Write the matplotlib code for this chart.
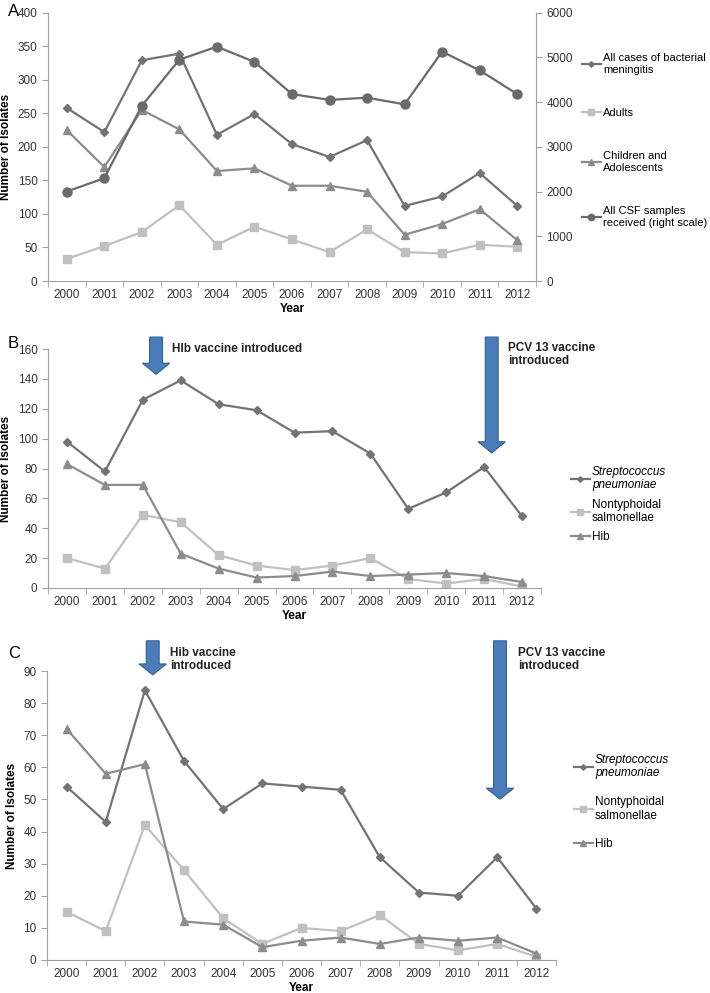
import matplotlib
matplotlib.use('Agg')
import matplotlib.pyplot as plt
from matplotlib.patches import FancyArrow

plt.rcParams['font.family'] = ['Liberation Sans', 'DejaVu Sans']
plt.rcParams['font.size'] = 8

years = ['2000', '2001', '2002', '2003', '2004', '2005', '2006',
         '2007', '2008', '2009', '2010', '2011', '2012']

# Panel A
all_cases = [258, 222, 329, 339, 218, 249, 204, 185, 210, 112, 126, 161, 112]
adults = [33, 52, 73, 113, 54, 81, 62, 43, 77, 43, 41, 54, 51]
children = [225, 170, 255, 226, 164, 168, 142, 142, 133, 69, 85, 107, 61]
csf_samples = [2000, 2300, 3920, 4950, 5240, 4900, 4180, 4050, 4100, 3950, 5130, 4710, 4180]

# Panel B
b_strep = [98, 78, 126, 139, 123, 119, 104, 105, 90, 53, 64, 81, 48]
b_nts = [20, 13, 49, 44, 22, 15, 12, 15, 20, 6, 3, 6, 1]
b_hib = [83, 69, 69, 23, 13, 7, 8, 11, 8, 9, 10, 8, 4]

# Panel C
c_strep = [54, 43, 84, 62, 47, 55, 54, 53, 32, 21, 20, 32, 16]
c_nts = [15, 9, 42, 28, 13, 5, 10, 9, 14, 5, 3, 5, 1]
c_hib = [72, 58, 61, 12, 11, 4, 6, 7, 5, 7, 6, 7, 2]

c_dia = '#737373'
c_sq = '#c0c0c0'
c_tri = '#8c8c8c'
c_circ = '#6a6a6a'
spine_col = '#a0a0a0'
arrow_fc = '#4a7cb9'
arrow_ec = '#35618f'

W, H = 710, 993
fig = plt.figure(figsize=(W / 100, H / 100), dpi=100)


def px_axes(left, right, top, bottom):
    return fig.add_axes([left / W, 1 - bottom / H, (right - left) / W, (bottom - top) / H])


def style_axes(ax, ymax, ystep):
    ax.set_xlim(-0.5, len(years) - 0.5)
    ax.set_ylim(0, ymax)
    ax.set_yticks(range(0, ymax + 1, ystep))
    ax.set_xticks(list(range(len(years))))
    ax.set_xticklabels(years)
    ax.set_xticks([i - 0.5 for i in range(len(years) + 1)], minor=True)
    ax.tick_params(axis='x', which='major', length=0, pad=6, labelsize=8.5, colors='#333333')
    ax.tick_params(axis='x', which='minor', length=4, color=spine_col, direction='out')
    ax.tick_params(axis='y', length=4, color=spine_col, labelsize=8.5, labelcolor='#333333')
    for s in ['top', 'right']:
        ax.spines[s].set_visible(False)
    for s in ['left', 'bottom']:
        ax.spines[s].set_color(spine_col)
    ax.set_ylabel('Number of Isolates', fontweight='bold', fontsize=8.5)
    ax.set_xlabel('Year', fontweight='bold', fontsize=8.5, labelpad=1)


x = list(range(len(years)))

# ---------------- Panel A
axA = px_axes(48, 536, 12.7, 281)
style_axes(axA, 400, 50)
axA2 = axA.twinx()
axA2.set_ylim(0, 6000)
axA2.set_yticks(range(0, 6001, 1000))
axA2.tick_params(axis='y', length=4, color=spine_col, labelsize=8.5, labelcolor='#333333')
for s in ['top', 'left', 'bottom']:
    axA2.spines[s].set_visible(False)
axA2.spines['right'].set_color(spine_col)

lA1, = axA.plot(x, all_cases, color=c_dia, marker='D', ms=4, lw=1.6, label='All cases of bacterial\nmeningitis')
lA2, = axA.plot(x, adults, color=c_sq, marker='s', ms=5.5, lw=1.6, label='Adults')
lA3, = axA.plot(x, children, color=c_tri, marker='^', ms=5.5, lw=1.6, label='Children and\nAdolescents')
lA4, = axA2.plot(x, csf_samples, color=c_circ, marker='o', ms=6.5, lw=1.6, label='All CSF samples\nreceived (right scale)')
fig.legend(handles=[lA1, lA2, lA3, lA4], loc='upper left', bbox_to_anchor=(572 / W, 1 - 43 / H),
           frameon=False, fontsize=8, handlelength=1.7, handletextpad=0.2,
           labelspacing=3.0, markerscale=0.7)
fig.text(8 / W, 1 - 12 / H, 'A', fontsize=12, va='center')

# ---------------- Panel B
axB = px_axes(48, 541, 349, 588)
style_axes(axB, 160, 20)
lB1, = axB.plot(x, b_strep, color=c_dia, marker='D', ms=4, lw=1.6, label='Streptococcus\npneumoniae')
lB2, = axB.plot(x, b_nts, color=c_sq, marker='s', ms=5.5, lw=1.6, label='Nontyphoidal\nsalmonellae')
lB3, = axB.plot(x, b_hib, color=c_tri, marker='^', ms=5.5, lw=1.6, label='Hib')
legB = fig.legend(handles=[lB1, lB2, lB3], loc='upper left', bbox_to_anchor=(560 / W, 1 - 455 / H),
                  frameon=False, fontsize=8.5, handlelength=1.6, handletextpad=0.2,
                  labelspacing=0.6, markerscale=0.7)
legB.get_texts()[0].set_fontstyle('italic')
fig.text(8 / W, 1 - 343 / H, 'B', fontsize=12, va='center')

axB.add_patch(FancyArrow(2.35, 168, 0, -25, width=0.34, head_width=0.72, head_length=7.5,
                         length_includes_head=True, fc=arrow_fc, ec=arrow_ec, lw=0.8, clip_on=False))
axB.add_patch(FancyArrow(11.2, 168, 0, -77.6, width=0.34, head_width=0.72, head_length=7.5,
                         length_includes_head=True, fc=arrow_fc, ec=arrow_ec, lw=0.8, clip_on=False))
fig.text(172 / W, 1 - 349 / H, 'Hlb vaccine introduced', fontsize=8.5, fontweight='bold',
         va='center', color='#222222')
fig.text(508 / W, 1 - 342 / H, 'PCV 13 vaccine\nintroduced', fontsize=8.5, fontweight='bold',
         va='top', color='#222222', linespacing=1.15)

# ---------------- Panel C
axC = px_axes(47, 556, 671, 960)
style_axes(axC, 90, 10)
lC1, = axC.plot(x, c_strep, color=c_dia, marker='D', ms=4, lw=1.6, label='Streptococcus\npneumoniae')
lC2, = axC.plot(x, c_nts, color=c_sq, marker='s', ms=5.5, lw=1.6, label='Nontyphoidal\nsalmonellae')
lC3, = axC.plot(x, c_hib, color=c_tri, marker='^', ms=5.5, lw=1.6, label='Hib')
legC = fig.legend(handles=[lC1, lC2, lC3], loc='upper left', bbox_to_anchor=(563 / W, 1 - 743 / H),
                  frameon=False, fontsize=8.5, handlelength=1.6, handletextpad=0.2,
                  labelspacing=1.4, markerscale=0.7)
legC.get_texts()[0].set_fontstyle('italic')
fig.text(8 / W, 1 - 653 / H, 'C', fontsize=12, va='center')

axC.add_patch(FancyArrow(2.2, 99.4, 0, -10.6, width=0.33, head_width=0.7, head_length=3.4,
                         length_includes_head=True, fc=arrow_fc, ec=arrow_ec, lw=0.8, clip_on=False))
axC.add_patch(FancyArrow(11.07, 99.4, 0, -49.3, width=0.33, head_width=0.7, head_length=3.4,
                         length_includes_head=True, fc=arrow_fc, ec=arrow_ec, lw=0.8, clip_on=False))
fig.text(170 / W, 1 - 647 / H, 'Hib vaccine\nintroduced', fontsize=8.5, fontweight='bold',
         va='top', color='#222222', linespacing=1.15)
fig.text(518 / W, 1 - 647 / H, 'PCV 13 vaccine\nintroduced', fontsize=8.5, fontweight='bold',
         va='top', color='#222222', linespacing=1.15)

fig.savefig('out.png', dpi=100)
plt.close()
